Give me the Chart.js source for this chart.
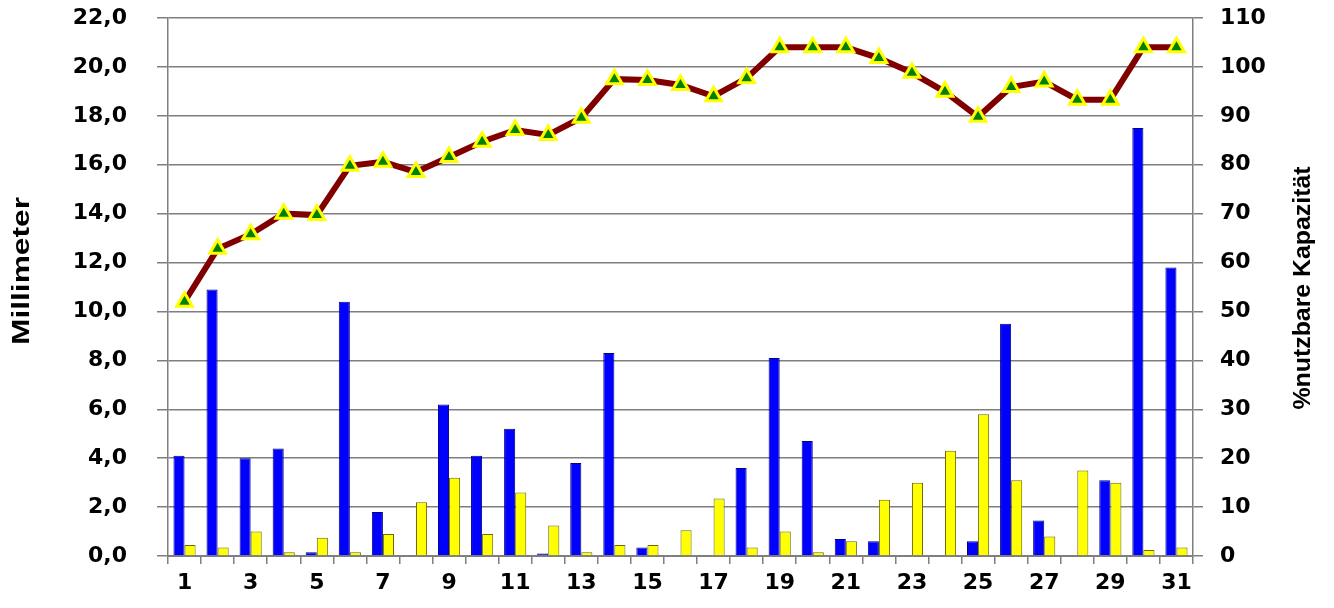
<!DOCTYPE html>
<html>
<head>
<meta charset="utf-8">
<script src="https://cdn.jsdelivr.net/npm/chart.js@4.4.1/dist/chart.umd.min.js"></script>
<style>
  html, body { margin: 0; padding: 0; background: #fff; }
  #wrap { width: 1334px; height: 608px; position: relative; }
</style>
</head>
<body>
<div id="wrap"><canvas id="rainChart"></canvas></div>
<script>
// Tage des Monats
const days = [];
for (let d = 1; d <= 31; d++) days.push(String(d));

// Niederschlag (mm), blaue Säulen
const niederschlag = [4.1, 10.9, 4.0, 4.4, 0.15, 10.4, 1.8, 0, 6.2, 4.1,
                      5.2, 0.1, 3.8, 8.3, 0.35, 0, 0, 3.6, 8.1, 4.7,
                      0.7, 0.6, 0, 0, 0.6, 9.5, 1.45, 0, 3.1, 17.5, 11.8];

// Verdunstung (mm), gelbe Säulen
const verdunstung = [0.45, 0.35, 1.0, 0.15, 0.75, 0.15, 0.9, 2.2, 3.2, 0.9,
                     2.6, 1.25, 0.15, 0.45, 0.45, 1.05, 2.35, 0.35, 1.0, 0.15,
                     0.6, 2.3, 3.0, 4.3, 5.8, 3.1, 0.8, 3.5, 3.0, 0.25, 0.35];

// Bodenfeuchte (% nutzbare Kapazität), Linie
const kapazitaet = [52, 62.8, 65.8, 70, 69.7, 79.8, 80.6, 78.5, 81.6, 84.7,
                    87.1, 86.1, 89.6, 97.5, 97.3, 96.3, 94, 97.7, 104, 104,
                    104, 101.8, 98.8, 94.9, 89.8, 95.9, 97, 93.3, 93.3, 104, 104];

const gridGrey = '#7f7f7f';
const tickFont = { family: 'DejaVu Sans', weight: 'bold', size: 22 };

// rotated axis titles, read bottom to top on both sides
const axisTitles = {
  id: 'axisTitles',
  afterDraw(chart) {
    const ctx = chart.ctx;
    const draw = (text, x, y, len) => {
      ctx.save();
      ctx.font = 'bold 24px "Liberation Sans"';
      const w = ctx.measureText(text).width;
      ctx.translate(x, y);
      ctx.rotate(-Math.PI / 2);
      ctx.scale(len / w, 1);
      ctx.fillStyle = '#000';
      ctx.textAlign = 'center';
      ctx.textBaseline = 'middle';
      ctx.fillText(text, 0, 0);
      ctx.restore();
    };
    draw('Millimeter', 22, 271, 148);
    draw('%nutzbare Kapazität', 1303, 288, 243);
  }
};

// fixed axis box, no extra top/bottom padding from the tick labels
function fixWidth(w) {
  return function (scale) {
    scale.width = w;
    scale.paddingTop = 0;
    scale.paddingBottom = 0;
  };
}

new Chart(document.getElementById('rainChart'), {
  type: 'bar',
  data: {
    labels: days,
    datasets: [
      {
        type: 'line',
        label: '% nutzbare Kapazität',
        data: kapazitaet,
        yAxisID: 'y1',
        borderColor: '#800000',
        borderWidth: 6,
        pointStyle: 'triangle',
        pointRadius: 9,
        pointBackgroundColor: '#008000',
        pointBorderColor: '#ffff00',
        pointBorderWidth: 3,
        tension: 0,
        order: 0
      },
      {
        label: 'Niederschlag',
        data: niederschlag,
        yAxisID: 'y',
        backgroundColor: '#0000ff',
        borderColor: '#000080',
        borderWidth: 1,
        categoryPercentage: 0.67,
        barPercentage: 1.0,
        order: 1
      },
      {
        label: 'Verdunstung',
        data: verdunstung,
        yAxisID: 'y',
        backgroundColor: '#ffff00',
        borderColor: '#6b6b00',
        borderWidth: 1,
        categoryPercentage: 0.67,
        barPercentage: 1.0,
        order: 1
      }
    ]
  },
  plugins: [axisTitles],
  options: {
    responsive: true,
    maintainAspectRatio: false,
    animation: false,
    layout: { padding: { top: 18, left: 0, right: 0, bottom: 0 } },
    plugins: {
      legend: { display: false },
      tooltip: { enabled: false }
    },
    scales: {
      x: {
        offset: true,
        afterFit: function (scale) { scale.height = 52; },
        grid: {
          offset: true,
          drawOnChartArea: false,
          drawTicks: true,
          tickLength: 8,
          color: gridGrey,
          lineWidth: 1.5
        },
        border: { color: gridGrey, width: 2 },
        ticks: {
          autoSkip: false,
          maxRotation: 0,
          color: '#000',
          font: tickFont,
          padding: 6,
          callback: function (value, index) {
            return index % 2 === 0 ? days[index] : '';
          }
        }
      },
      y: {
        position: 'left',
        min: 0,
        max: 22,
        afterFit: fixWidth(168),
        grid: {
          color: gridGrey,
          lineWidth: 1.5,
          tickLength: 11
        },
        border: { color: gridGrey, width: 1.5 },
        ticks: {
          stepSize: 2,
          color: '#000',
          font: tickFont,
          padding: 30,
          callback: function (value) {
            return value.toFixed(1).replace('.', ',');
          }
        }
      },
      y1: {
        position: 'right',
        min: 0,
        max: 110,
        afterFit: fixWidth(141),
        grid: {
          drawOnChartArea: false,
          color: gridGrey,
          lineWidth: 1.5,
          tickLength: 10
        },
        border: { color: gridGrey, width: 1.5 },
        ticks: {
          stepSize: 10,
          color: '#000',
          font: tickFont,
          padding: 17
        }
      }
    }
  }
});
</script>
</body>
</html>
